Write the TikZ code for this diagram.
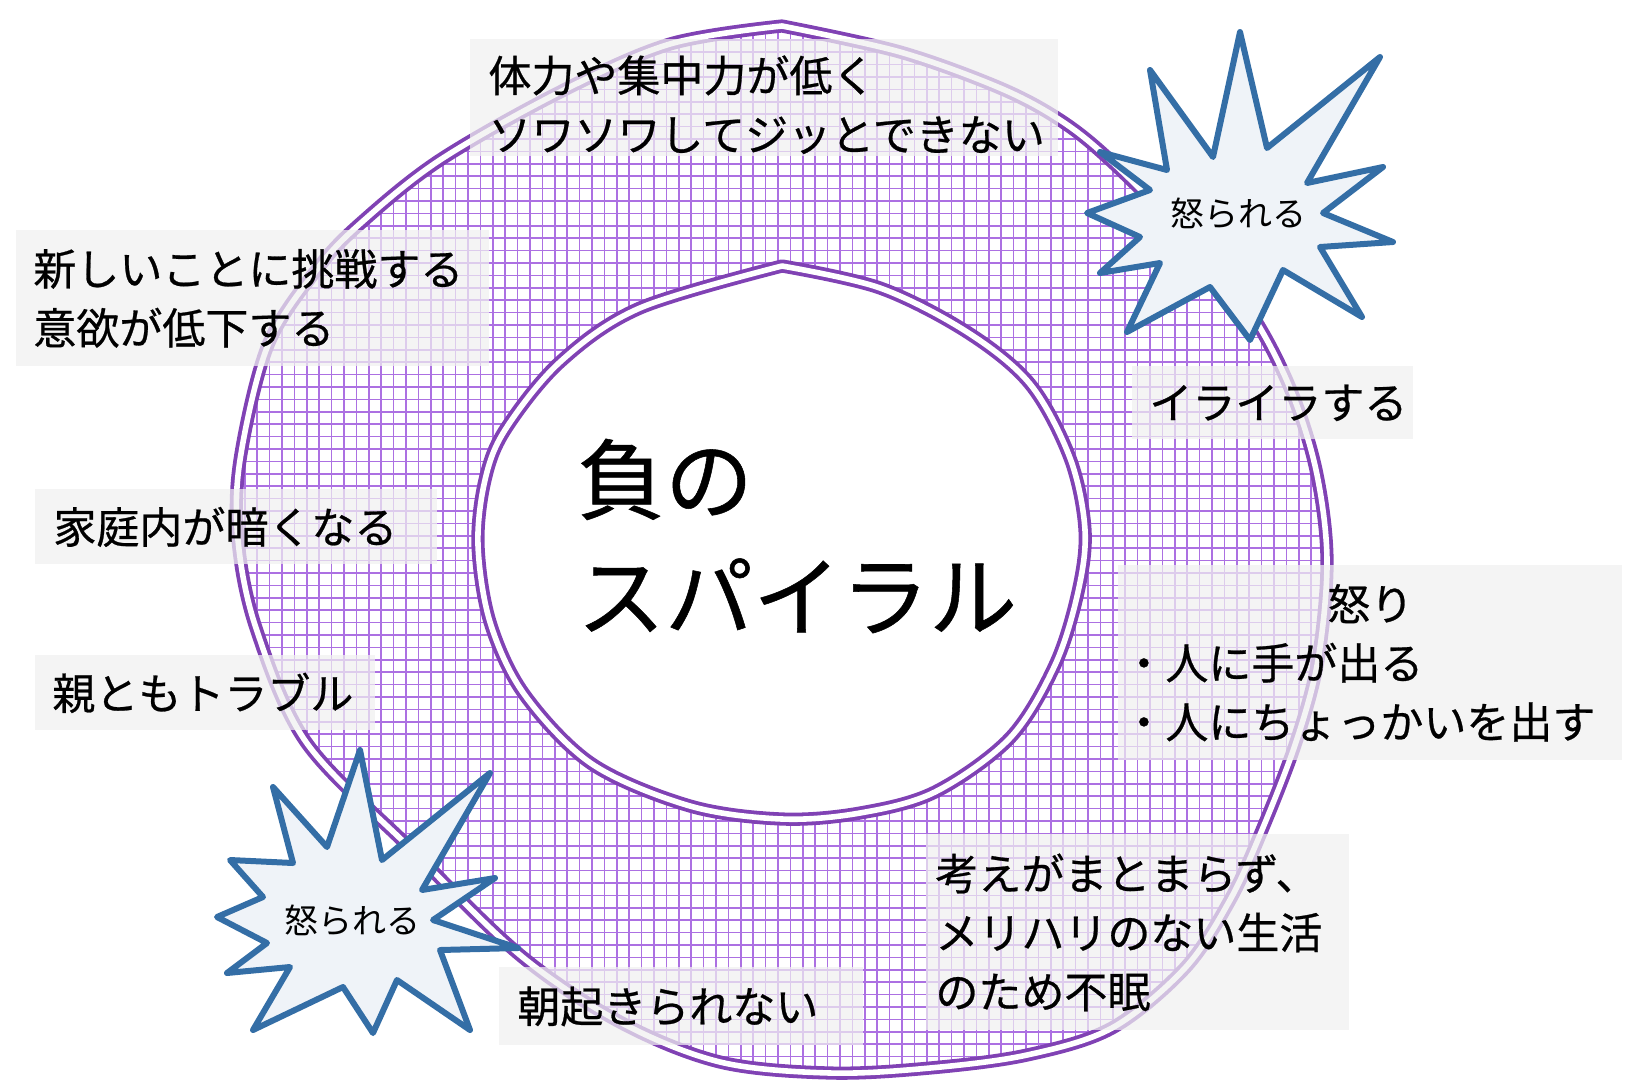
\documentclass[tikz,border=0pt]{standalone}
\usepackage{fontspec}
\setmainfont{Noto Sans CJK JP}
\newfontfamily\jpfont{Noto Sans CJK JP}[FakeBold=0.6]
\usetikzlibrary{positioning}
\definecolor{ringline}{RGB}{128,66,180}
\definecolor{gridline}{RGB}{172,112,226}
\definecolor{boxgray}{RGB}{240,240,240}
\definecolor{burstline}{RGB}{52,110,166}
\definecolor{burstfill}{RGB}{239,243,248}

\newcommand{\outerring}{plot[smooth, tension=0.55] coordinates {(782,26) (900,52) (1000,88) (1060,120) (1110,160) (1190,240) (1250,312) (1290,388) (1316,470) (1327,560) (1318,660) (1296,742) (1262,830) (1230,900) (1185,968) (1112,1028) (1027,1055) (930,1068) (830,1073) (720,1062) (620,1022) (520,955) (410,848) (306,742) (256,628) (238,540) (240,460) (268,345) (318,268) (362,222) (440,160) (560,92) (670,44) (782,26)} -- cycle}
\newcommand{\innerring}{plot[smooth, tension=0.55] coordinates {(782,266) (880,288) (967,332) (1030,384) (1070,458) (1085,530) (1078,592) (1055,665) (1010,738) (935,792) (860,813) (782,819) (690,806) (592,764) (524,694) (490,622) (478,545) (485,480) (505,430) (560,362) (640,308) (782,266)} -- cycle}

\begin{document}
\begin{tikzpicture}
    [
      x=0.5pt, y=-0.5pt,
      gridrule/.style = {draw=gridline, line width=0.75pt},
      ringdouble/.style = {draw=ringline, line width=1.9pt, double=white, double distance=2.8pt, line join=round},
      labelbox/.style = {fill=boxgray, fill opacity=0.72, text opacity=1, anchor=north west, align=left,
                         inner ysep=0pt, font=\jpfont\fontsize{21.5}{29.5}\selectfont},
      burst/.style = {draw=burstline, fill=burstfill, line width=3pt, line join=round},
      bursttext/.style = {font=\fontsize{17}{20}\selectfont},
    ]

    \useasboundingbox (0,0) rectangle (1631,1088);

    \begin{scope}[even odd rule]
      \clip \outerring \innerring;
      \foreach \gx in {220,232.4,...,1340} {
          \draw[gridrule] (\gx,15) -- (\gx,1080);
        }
      \foreach \gy in {15,27.4,...,1080} {
          \draw[gridrule] (220,\gy) -- (1340,\gy);
        }
    \end{scope}

    \draw[ringdouble] \outerring;
    \draw[ringdouble] \innerring;

    \node[labelbox, minimum width=294pt, minimum height=58.5pt, text width=276pt, inner xsep=9pt]
      (tired) at (470,39) {\rule{0pt}{25pt}体力や集中力が低く\\ソワソワしてジッとできない};
    \node[labelbox, minimum width=236.5pt, minimum height=68pt, text width=219.5pt, inner xsep=8.5pt]
      (challenge) at (16,230) {新しいことに挑戦する\\意欲が低下する};
    \node[labelbox, minimum width=201pt, minimum height=37.5pt, text width=183pt, inner xsep=9pt]
      (home) at (35,489) {家庭内が暗くなる};
    \node[labelbox, minimum width=170pt, minimum height=37.5pt, text width=153pt, inner xsep=8.5pt]
      (parents) at (35,655) {親ともトラブル};
    \node[labelbox, minimum width=140.5pt, minimum height=36.5pt, text width=123.5pt, inner xsep=8.5pt]
      (irritate) at (1132,366) {イライラする};
    \node[labelbox, minimum width=252pt, minimum height=97.5pt, text width=248pt, inner xsep=2pt]
      (anger) at (1118,565) {\makebox[248pt][c]{怒り}\\・人に手が出る\\・人にちょっかいを出す};
    \node[labelbox, minimum width=211.5pt, minimum height=98pt, text width=202.5pt, inner xsep=4.5pt]
      (insomnia) at (926,834) {考えがまとまらず、\\メリハリのない生活\\のため不眠};
    \node[labelbox, minimum width=182pt, minimum height=39pt, text width=164pt, inner xsep=9pt]
      (morning) at (499,967) {朝起きられない};

    \node[anchor=west, align=left, font=\jpfont\fontsize{44}{58.5}\selectfont] (spiral) at (570,536) {負の\\スパイラル};

    \draw[burst] (1240,32) -- (1267,148) -- (1380,57) -- (1307,183) -- (1383,167) -- (1323,213)
      -- (1393,242) -- (1320,247) -- (1362,317) -- (1283,270) -- (1250,340) -- (1210,287)
      -- (1127,332) -- (1160,263) -- (1100,273) -- (1140,237) -- (1087,213) -- (1150,190)
      -- (1100,152) -- (1167,170) -- (1150,70) -- (1213,157) -- cycle;
    \node[bursttext] (scoldtop) at (1238,213) {怒られる};

    \draw[burst] (360,750) -- (382,860) -- (490,773) -- (422,890) -- (495,878) -- (433,920)
      -- (518,948) -- (440,950) -- (470,1030) -- (397,980) -- (373,1033) -- (343,987)
      -- (253,1030) -- (290,967) -- (227,973) -- (267,943) -- (217,917) -- (263,897)
      -- (230,860) -- (293,863) -- (273,787) -- (327,847) -- cycle;
    \node[bursttext] (scoldbottom) at (352,920) {怒られる};

  \end{tikzpicture}
\end{document}
